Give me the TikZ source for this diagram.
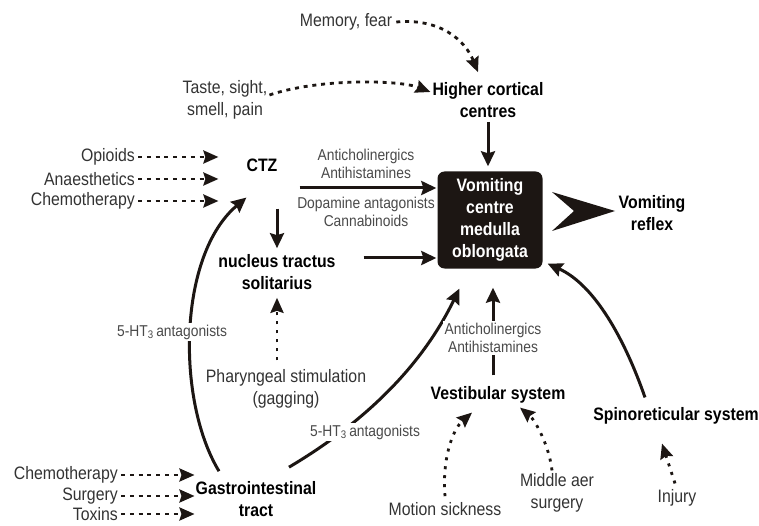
\documentclass[tikz,border=0pt]{standalone}
\usepackage{fontspec}
\setmainfont[FakeStretch=0.88]{Liberation Sans}
\usetikzlibrary{arrows.meta,calc}
\definecolor{txt}{HTML}{333333}
\definecolor{stxt}{HTML}{4A4A4A}
\definecolor{boxc}{HTML}{1C1613}
\newcommand\fmain{\fontsize{18}{22}\selectfont}
\newcommand\fsmall{\fontsize{15.7}{18.5}\selectfont}
\begin{document}
\begin{tikzpicture}[x=1pt,y=-1pt,
  lab/.style={inner sep=0pt, align=center, text=txt, font=\fmain},
  slab/.style={inner sep=1.5pt, align=center, text=stxt, font=\fsmall, fill=white},
  blab/.style={inner sep=0pt, align=center, text=black, font=\fmain\bfseries},
  vcbox/.style={fill=boxc, rounded corners=7pt, minimum width=105pt, minimum height=97pt, inner sep=0pt, text=white, font=\fmain\bfseries, align=center},
  sarr/.style={line width=3pt, draw=boxc, -{Stealth[length=15pt,width=14pt,inset=2pt]}},
  darr/.style={line width=2.8pt, draw=boxc, dash pattern=on 4pt off 4.8pt, -{Stealth[length=15pt,width=13pt,inset=2pt]}},
  oarr/.style={line width=2.8pt, draw=boxc, dash pattern=on 3pt off 6pt, -{Stealth[length=15pt,width=13pt,inset=2pt]}}]
\fill[white] (0,0) rectangle (759,526);
\useasboundingbox (0,0) rectangle (759,526);

% nodes
\node[lab] (mem) at (346,22) {Memory, fear};
\node[lab] (taste) at (225,100) {Taste, sight,\\smell, pain};
\node[blab] (hcc) at (488,100) {Higher cortical\\centres};
\node[blab] (ctz) at (262,165) {CTZ};
\node[vcbox] (vc) at (490,220) {Vomiting\\centre\\medulla\\oblongata};
\node[blab] (vr) at (652,213) {Vomiting\\reflex};
\node[lab, anchor=east] (opi) at (135,157) {Opioids};
\node[lab, anchor=east] (ana) at (135,179) {Anaesthetics};
\node[lab, anchor=east] (che1) at (135,201) {Chemotherapy};
\node[slab, fill=none] (ab1) at (366,164) {Anticholinergics\\Antihistamines};
\node[slab, fill=none] (ab2) at (366,212) {Dopamine antagonists\\Cannabinoids};
\node[blab] (nts) at (277,272) {nucleus tractus\\solitarius};
\node[lab] (phar) at (286,389) {Pharyngeal stimulation\\(gagging)};
\node[blab] (gi) at (256,499) {Gastrointestinal\\tract};
\node[lab, anchor=east] (che2) at (118,475) {Chemotherapy};
\node[lab, anchor=east] (surg) at (118,496) {Surgery};
\node[lab, anchor=east] (tox) at (118,514) {Toxins};
\node[blab] (ves) at (498,395) {Vestibular system};
\node[lab] (mot) at (445,509) {Motion sickness};
\node[lab] (mid) at (557,493) {Middle aer\\surgery};
\node[blab] (spin) at (676,416) {Spinoreticular system};
\node[lab] (inj) at (677,498) {Injury};

% connectors
\draw[darr] ($(mem.east)+(4,0)$) .. controls (440,18) and (465,40) .. ($(hcc.north)+(-10,-10)$);
\draw[darr] ($(taste.east)+(2,-5)$) .. controls (320,78) and (400,80) .. ($(hcc.west)+(-2,-8)$);
\draw[sarr, shorten <=4pt, shorten >=5pt] (hcc.south) -- (hcc.south |- vc.north);
\foreach \n in {opi,ana,che1}
  \draw[darr, shorten <=3pt, shorten >=28pt] (\n.east) -- (\n.east -| ctz.west);
\coordinate (ctzin) at ($(vc.west)+(-1,-32)$);
\draw[sarr, shorten <=22pt] (ctzin -| ctz.east) -- (ctzin);
\draw[sarr, shorten <=37pt] (ctz.south -| nts.north) -- ($(nts.north)+(0,-6)$);
\coordinate (ntsin) at ($(vc.west)+(-1,38)$);
\draw[sarr, shorten <=28pt] (ntsin -| nts.east) -- (ntsin);
\draw[oarr] ($(phar.north)+(-9,-9)$) -- ($(nts.south)+(0,8)$);
\draw[sarr] ($(gi.north)+(-37,-10)$) .. controls (176,400) and (178,255) .. ($(ctz.south west)+(0,26)$);
\draw[sarr] ($(gi.north)+(33,-14)$) .. controls (360,425) and (420,370) .. ($(vc.south west)+(22,20)$);
\foreach \n in {che2,surg,tox}
  \draw[darr, shorten <=3pt, shorten >=1pt] (\n.east) -- (\n.east -| gi.west);
\coordinate (vesin) at ($(vc.south)+(3,19)$);
\draw[sarr] ($(vesin |- ves.north)+(0,-11)$) -- (vesin);
\draw[oarr] ($(mot.north)+(0,-6)$) .. controls (442,460) and (452,430) .. ($(ves.south)+(-26,9)$);
\draw[oarr] ($(mid.north)+(-5,-3)$) .. controls (549,445) and (535,420) .. ($(ves.south)+(22,4)$);
\draw[sarr] ($(spin.north)+(-31,-10)$) .. controls (625,340) and (595,285) .. ($(vc.south east)+(5,-5)$);
\draw[oarr] ($(inj.north)+(-2,-6)$) -- ($(spin.south)+(-14,19)$);

% chevron to reflex
\fill[boxc] (552,192) -- (615,211) -- (552,231) -- (574,211) -- cycle;

% labels over lines
\node[slab] (ht1) at (172,332) {5-HT\textsubscript{3}\,antagonists};
\node[slab] (ht2) at (365,432) {5-HT\textsubscript{3}\,antagonists};
\node[slab] (ab3) at (493,338) {Anticholinergics\\Antihistamines};
\end{tikzpicture}
\end{document}
